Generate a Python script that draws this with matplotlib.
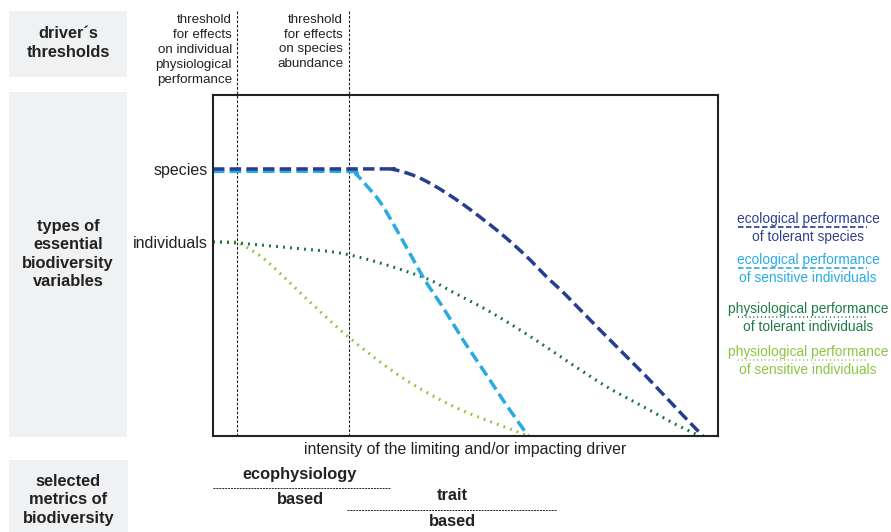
import numpy as np
import matplotlib.pyplot as plt
from matplotlib.patches import Rectangle

plt.rcParams['font.family'] = ['Liberation Sans', 'DejaVu Sans']

# driver thresholds on the intensity axis (0-100)
threshold_individual = 4.7
threshold_species = 26.9

# performance levels (0-100)
level_species = 78.3
level_individuals = 56.9

# ecological performance of tolerant species
tol_sp_x = [0, 33.1, 35.6, 39.6, 43.6, 48.3, 52.9, 57.4, 62.2, 66.1, 69.3, 74.7, 80.6, 85.9, 91.1, 97.0]
tol_sp_y = [78.3, 78.3, 78.2, 76.5, 73.6, 69.2, 64.2, 58.9, 52.5, 46.6, 42.2, 34.0, 25.2, 17.3, 9.1, 0]

# ecological performance of sensitive individuals
sen_sp_x = [0, 26.9, 28.3, 30.3, 33.1, 36.4, 41.6, 45.5, 49.5, 53.5, 57.4, 62.4]
sen_sp_y = [77.6, 77.6, 76.8, 73.6, 68.6, 60.4, 46.6, 37.8, 28.2, 19.4, 10.6, 0]

# physiological performance of tolerant individuals
tol_ind_x = [0, 4.75, 15.8, 27.1, 41.0, 47.5, 54.3, 60.8, 66.3, 71.3, 78.0, 84.6, 91.1, 96.4]
tol_ind_y = [56.9, 56.6, 55.1, 53.1, 46.9, 42.2, 36.9, 31.1, 25.8, 20.8, 14.4, 9.1, 3.8, 0]

# physiological performance of sensitive individuals
sen_ind_x = [0, 4.75, 5.9, 9.9, 14.7, 19.2, 27.1, 37.6, 48.3, 58.8, 62.4]
sen_ind_y = [56.9, 56.9, 56.0, 52.2, 45.7, 39.3, 28.7, 17.0, 8.2, 2.1, 0]

dark_blue = '#263d91'
light_blue = '#29abe2'
dark_green = '#176b3c'
light_green = '#8cc63f'
ink = '#222222'


def smooth(xs, ys, n=16):
    # Catmull-Rom spline through the given points
    p = np.column_stack([xs, ys]).astype(float)
    p = np.vstack([p[0], p, p[-1]])
    t = np.linspace(0, 1, n, endpoint=False)[:, None]
    out = []
    for i in range(1, len(p) - 2):
        p0, p1, p2, p3 = p[i - 1], p[i], p[i + 1], p[i + 2]
        out.append(0.5 * (2 * p1 + (p2 - p0) * t
                          + (2 * p0 - 5 * p1 + 4 * p2 - p3) * t ** 2
                          + (3 * p1 - p0 - 3 * p2 + p3) * t ** 3))
    out.append(p[-2][None])
    c = np.vstack(out)
    return c[:, 0], c[:, 1]


W, H = 891, 532
fig = plt.figure(figsize=(W / 100, H / 100), dpi=100)

# overlay in pixel units for the panels and annotations
ov = fig.add_axes([0, 0, 1, 1], zorder=0)
ov.set_xlim(0, W)
ov.set_ylim(H, 0)
ov.axis('off')

ax = fig.add_axes([213 / W, (H - 436) / H, 505 / W, 341 / H], zorder=1)
ax.set_facecolor('none')
ax.set_xlim(0, 100)
ax.set_ylim(0, 100)
ax.set_xticks([])
ax.set_yticks([level_species, level_individuals])
ax.set_yticklabels(['species', 'individuals'], fontsize=11.5, color=ink)
ax.tick_params(axis='y', length=0, pad=4)
for s in ax.spines.values():
    s.set_linewidth(1.5)
    s.set_color(ink)
ax.set_xlabel('intensity of the limiting and/or impacting driver', fontsize=11.4,
              color=ink, labelpad=4)

# threshold markers running up into the header
for t in (threshold_individual, threshold_species):
    ax.axvline(t, ymin=0, ymax=(436 - 10) / 341, clip_on=False, color=ink,
               lw=0.8, ls=(0, (2.5, 1.5)))

dash = (0, (3.3, 1.5))
dots = (0, (0.6, 1.7))
ax.plot(*smooth(sen_ind_x, sen_ind_y), color=light_green, lw=2.2, ls=dots)
ax.plot(*smooth(tol_ind_x, tol_ind_y), color=dark_green, lw=2.2, ls=dots)
ax.plot(*smooth(sen_sp_x, sen_sp_y), color=light_blue, lw=2.5, ls=dash)
ax.plot(*smooth(tol_sp_x, tol_sp_y), color=dark_blue, lw=2.5, ls=dash)

# grey row headers
panel = '#f0f1f3'
headers = [
    ((9, 11, 118, 66), "driver\u00b4s\nthresholds", 43),
    ((9, 92, 118, 345), "types of\nessential\nbiodiversity\nvariables", 254),
    ((9, 460, 119, 72), "selected\nmetrics of\nbiodiversity", 500),
]
for (x0, y0, w, h), label, yc in headers:
    ov.add_patch(Rectangle((x0, y0), w, h, facecolor=panel, edgecolor='none'))
    ov.text(x0 + w / 2, yc, label, ha='center', va='center', fontsize=11.8,
            fontweight='bold', color=ink, linespacing=1.3)

ov.text(232, 50, "threshold\nfor effects\non individual\nphysiological\nperformance",
        ha='right', va='center', fontsize=9.6, color=ink, linespacing=1.33)
ov.text(343, 42, "threshold\nfor effects\non species\nabundance",
        ha='right', va='center', fontsize=9.6, color=ink, linespacing=1.33)

# metric groups below the axis
bold = dict(ha='center', va='center', fontsize=11.8, fontweight='bold', color=ink)
ov.text(300, 475, 'ecophysiology', **bold)
ov.plot([213, 390], [488, 488], color=ink, lw=0.7, ls=(0, (2, 1)))
ov.text(300, 499, 'based', **bold)
ov.text(452, 496, 'trait', **bold)
ov.plot([347, 557], [510, 510], color=ink, lw=0.7, ls=(0, (2, 1)))
ov.text(452, 521, 'based', **bold)

# legend entries with the line sample under the first line
legend = [
    ('ecological performance\nof tolerant species', '#2e3f8f', dark_blue, dash, 228),
    ('ecological performance\nof sensitive individuals', light_blue, light_blue, dash, 269),
    ('physiological performance\nof tolerant individuals', '#1e7b45', dark_green, dots, 318),
    ('physiological performance\nof sensitive individuals', light_green, light_green, dots, 361),
]
for text, tc, lc, ls, yc in legend:
    ov.text(808, yc, text, ha='center', va='center', fontsize=9.9, color=tc,
            linespacing=1.4)
    ov.plot([738, 867], [yc - 1, yc - 1], color=lc, lw=1.2, ls=ls)

fig.savefig('out.png', dpi=100)
